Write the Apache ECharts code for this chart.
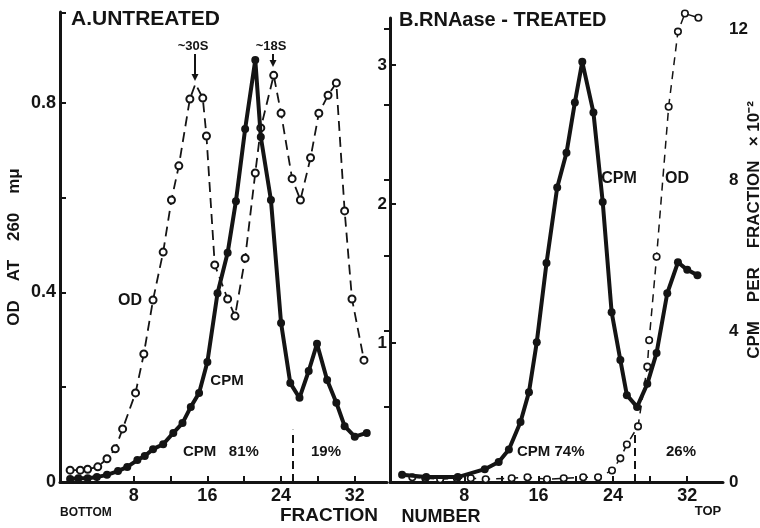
<!DOCTYPE html>
<html>
<head>
<meta charset="utf-8">
<script src="https://cdn.jsdelivr.net/npm/echarts@6/dist/echarts.min.js"></script>
<style>
  html, body { margin: 0; background: #fff; }
  #chart { width: 760px; height: 528px; }
</style>
</head>
<body>
<div id="chart"></div>
<script>
// Panel A (untreated): OD at 260 mu, open circles, dashed
const fracOdA = [1.1, 2.2, 3.0, 4.1, 5.1, 6.0, 6.8, 8.2, 9.1, 10.1, 11.2, 12.1, 12.9, 14.1, 14.7, 15.5, 15.9, 16.8, 18.2, 19.0,
  20.1, 21.2, 21.8, 23.2, 24.0, 25.2, 26.1, 27.2, 28.1, 29.1, 30.0, 30.9, 31.7, 33.0];
const odA = [0.025, 0.025, 0.027, 0.032, 0.049, 0.07, 0.112, 0.188, 0.27, 0.384, 0.485, 0.595, 0.667, 0.808, 0.84, 0.81, 0.73, 0.458, 0.386, 0.35,
  0.472, 0.652, 0.747, 0.858, 0.778, 0.64, 0.595, 0.684, 0.778, 0.816, 0.842, 0.572, 0.386, 0.257];
const apexA = [14.7]; // drawn peak between two samples, no marker

// Panel A: CPM per fraction x 10^-2, filled dots, solid
const fracCpmA = [1.1, 2.0, 3.0, 4.0, 5.1, 6.3, 7.3, 8.4, 9.2, 10.1, 11.2, 12.3, 13.3, 14.2, 15.1, 16.0, 17.1, 18.2, 19.1, 20.1,
  21.2, 21.8, 22.9, 24.0, 25.0, 26.0, 27.0, 27.9, 29.0, 30.0, 30.9, 32.0, 33.3];
const cpmA = [0.08, 0.1, 0.1, 0.13, 0.19, 0.29, 0.40, 0.58, 0.69, 0.87, 1.0, 1.3, 1.56, 1.99, 2.36, 3.18, 5.0, 6.07, 7.44, 9.35,
  11.18, 9.14, 7.47, 4.21, 2.62, 2.23, 2.94, 3.66, 2.70, 2.10, 1.48, 1.2, 1.3];

// Panel B (RNAase treated)
const fracOdB = [2.4, 3.8, 5.4, 7.2, 8.7, 10.3, 13.1, 14.8, 16.9, 18.7, 20.8, 22.4, 23.9, 24.8, 25.5, 26.7, 27.7, 27.9, 28.7, 30.0, 31.0, 31.75, 33.2];
const odB = [0.034, 0.027, 0.02, 0.027, 0.027, 0.02, 0.027, 0.034, 0.02, 0.027, 0.034, 0.034, 0.083, 0.17, 0.27, 0.40, 0.83, 1.02, 1.62, 2.70, 3.24, 3.37, 3.34];

const fracCpmB = [1.3, 3.9, 7.3, 10.2, 11.7, 12.8, 14.05, 14.96, 15.8, 16.85, 18.0, 19.0, 19.9, 20.7, 21.9, 22.9, 23.86, 24.8, 25.5, 26.6,
  27.7, 28.7, 29.85, 31.0, 32.0, 33.1];
const cpmB = [0.19, 0.13, 0.13, 0.34, 0.53, 0.86, 1.59, 2.38, 3.70, 5.80, 7.80, 8.72, 10.05, 11.13, 9.79, 7.42, 4.5, 3.23, 2.30, 1.99,
  2.6, 3.42, 5.0, 5.82, 5.62, 5.48];

// split lines between the peaks (fraction number)
const splitA = 25.3;
const splitB = 26.3;

// ticks
const fracTicks = [4, 8, 12, 16, 20, 24, 28, 32];
const fracLabels = [8, 16, 24, 32];
const odATicks = [0.2, 0.4, 0.6, 0.8, 0.99];
const odALabels = [0, 0.4, 0.8];
const odBTicks = [1, 2, 3];
const odBLabels = [1, 2, 3];
const cpmTicks = [2, 4, 6, 8, 10, 12];
const cpmLabels = [0, 4, 8, 12];

const INK = '#141414';
const FONT = '"Liberation Sans", Arial, sans-serif';

function pairs(xs, ys) {
  return xs.map((x, i) => [x, ys[i]]);
}

const tick = (vals) => ({ show: true, inside: true, length: 6, lineStyle: { color: INK, width: 2 }, customValues: vals });
const line = { show: true, lineStyle: { color: INK, width: 3 } };
const lbl = (vals, fmt, extra) => Object.assign({
  show: true, customValues: vals, formatter: fmt, color: INK,
  fontFamily: FONT, fontWeight: 'bold', fontSize: 17
}, extra || {});

const xAx = (grid, max, show) => ({
  type: 'value', gridIndex: grid, min: 0, max: max, show: show,
  axisLine: line, axisTick: tick(fracTicks),
  axisLabel: lbl(fracLabels, v => String(v), { margin: 5, fontSize: 18 }),
  splitLine: { show: false }
});

const option = {
  animation: false,
  backgroundColor: '#fff',
  grid: [
    { left: 60, top: 12, width: 327, height: 470 },
    { left: 390, top: 18, width: 333, height: 464 },
    { left: 390, top: 29, width: 333, height: 453 }
  ],
  xAxis: [xAx(0, 35.5, true), xAx(1, 35.85, true), xAx(2, 35.85, false)],
  yAxis: [
    {
      type: 'value', gridIndex: 0, min: 0, max: 0.9916,
      axisLine: line, axisTick: tick(odATicks),
      axisLabel: lbl(odALabels, v => v === 0 ? '0' : v.toFixed(1), { margin: 4, fontSize: 18 }),
      splitLine: { show: false }
    },
    { type: 'value', gridIndex: 0, min: 0, max: 12.45, show: false },
    {
      type: 'value', gridIndex: 1, min: 0, max: 3.338,
      axisLine: line, axisTick: tick(odBTicks),
      axisLabel: lbl(odBLabels, v => String(v), { margin: 3 }),
      splitLine: { show: false }
    },
    {
      type: 'value', gridIndex: 2, min: 0, max: 12, position: 'right',
      axisLine: line, axisTick: tick(cpmTicks),
      axisLabel: lbl(cpmLabels, v => String(v), { margin: 6 }),
      splitLine: { show: false }
    }
  ],
  series: [
    {
      type: 'line', xAxisIndex: 0, yAxisIndex: 0, z: 2, clip: false,
      data: pairs(fracOdA, odA).map(p => apexA.includes(p[0]) ? { value: p, symbol: 'none' } : p),
      symbol: 'circle', symbolSize: 7,
      itemStyle: { color: '#fff', borderColor: INK, borderWidth: 2 },
      lineStyle: { color: INK, width: 1.8, type: [10, 6] },
      markLine: {
        silent: true, symbol: 'none', label: { show: false },
        lineStyle: { color: INK, width: 2, type: [8, 5] },
        data: [[{ coord: [splitA, 0] }, { coord: [splitA, 0.11] }]]
      }
    },
    {
      type: 'line', xAxisIndex: 0, yAxisIndex: 1, z: 3, clip: false,
      data: pairs(fracCpmA, cpmA),
      symbol: 'circle', symbolSize: 8,
      itemStyle: { color: INK },
      lineStyle: { color: INK, width: 4 }
    },
    {
      type: 'line', xAxisIndex: 1, yAxisIndex: 2, z: 2, clip: false,
      data: pairs(fracOdB, odB),
      symbol: 'circle', symbolSize: 6.5,
      itemStyle: { color: '#fff', borderColor: INK, borderWidth: 1.6 },
      lineStyle: { color: INK, width: 1.5, type: [8, 6] }
    },
    {
      type: 'line', xAxisIndex: 2, yAxisIndex: 3, z: 3, clip: false,
      data: pairs(fracCpmB, cpmB),
      symbol: 'circle', symbolSize: 8,
      itemStyle: { color: INK },
      lineStyle: { color: INK, width: 4 },
      markLine: {
        silent: true, symbol: 'none', label: { show: false },
        lineStyle: { color: INK, width: 2, type: [8, 5] },
        data: [[{ coord: [splitB, 0] }, { coord: [splitB, 1.35] }]]
      }
    }
  ]
};

// annotations (text and arrows)
function txt(s, x, y, size, align, rot) {
  return {
    type: 'text', x: x, y: y, rotation: rot || 0, z: 10,
    style: {
      text: s, fill: INK, font: 'bold ' + size + 'px ' + FONT,
      align: align || 'left', verticalAlign: 'middle'
    }
  };
}
function arrow(x, y1, y2) {
  return [
    { type: 'line', z: 10, shape: { x1: x, y1: y1, x2: x, y2: y2 - 5 }, style: { stroke: INK, lineWidth: 2 } },
    { type: 'polygon', z: 10, shape: { points: [[x - 3.5, y2 - 7], [x + 3.5, y2 - 7], [x, y2]] }, style: { fill: INK } }
  ];
}

option.graphic = [
  txt('A.UNTREATED', 71, 19, 21),
  txt('B.RNAase - TREATED', 399, 20, 20),
  txt('~30S', 193, 46, 13, 'center'),
  txt('~18S', 271, 46, 13, 'center'),
  ...arrow(195, 54, 81),
  ...arrow(273, 54, 67),
  txt('OD', 130, 301, 16, 'center'),
  txt('CPM', 227, 381, 15, 'center'),
  txt('CPM   81%', 183, 452, 15),
  txt('19%', 326, 452, 15, 'center'),
  txt('BOTTOM', 60, 513, 12),
  txt('FRACTION', 329, 516, 19, 'center'),
  txt('NUMBER', 441, 517, 18, 'center'),
  txt('TOP', 708, 511, 13, 'center'),
  txt('CPM', 619, 179, 16, 'center'),
  txt('OD', 677, 179, 16, 'center'),
  txt('CPM 74%', 517, 452, 15),
  txt('26%', 681, 452, 15, 'center'),
  txt('OD    AT    260    m\u03bc', 14, 247, 17, 'center', Math.PI / 2),
  txt('CPM    PER    FRACTION   \u00d7 10\u207b\u00b2', 754, 230, 17, 'center', Math.PI / 2)
];

const chart = echarts.init(document.getElementById('chart'));
chart.setOption(option);
</script>
</body>
</html>
